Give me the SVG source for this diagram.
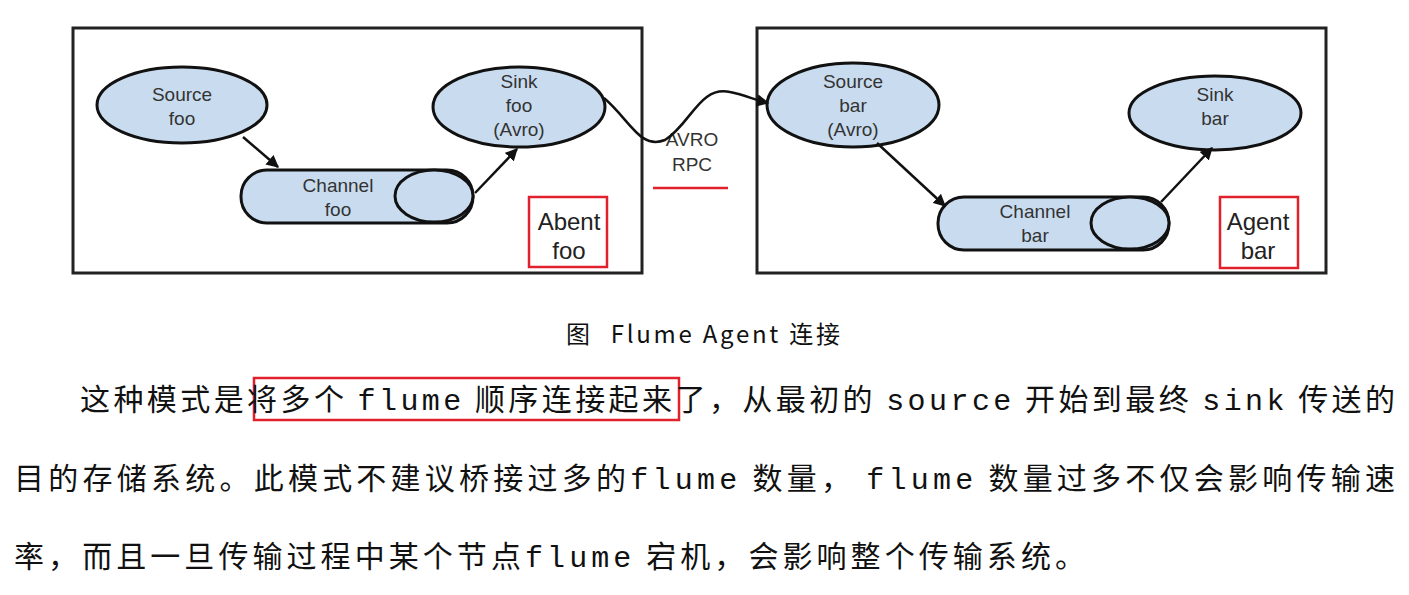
<svg xmlns="http://www.w3.org/2000/svg" width="1409" height="595" viewBox="0 0 1409 595">
<style>
.box{fill:#fff;stroke:#222;stroke-width:3}
.n{fill:#c9dcef;stroke:#111;stroke-width:3}
.t{font-family:"Liberation Sans",Arial,sans-serif;font-size:19px;fill:#333;text-anchor:middle}
.lbl{font-family:"Liberation Sans",Arial,sans-serif;font-size:24px;fill:#222;text-anchor:middle}
.red{fill:none;stroke:#e0202a;stroke-width:2.5}
.c{stroke:#111;stroke-width:2.5;fill:none}
.body{font-family:"Noto Sans CJK SC","Liberation Serif",serif;font-size:30px;fill:#111}
.m{font-family:"Liberation Mono","Noto Sans CJK SC",monospace}
</style>
<defs><marker id="a" viewBox="0 0 10 10" refX="9" refY="5" markerWidth="5" markerHeight="5" orient="auto"><path d="M0 0L10 5L0 10z" fill="#111"/></marker></defs>
<rect class="box" x="73" y="28" width="569" height="245"/>
<rect class="box" x="757" y="28" width="569" height="245"/>
<g id="source-foo"><ellipse class="n" cx="182" cy="105" rx="85" ry="38"/><text class="t" x="182" y="101">Source</text><text class="t" x="182" y="125">foo</text></g>
<g id="channel-foo"><rect class="n" x="241" y="170" width="232" height="53" rx="26"/><ellipse class="n" cx="434" cy="196" rx="39" ry="26"/><text class="t" x="338" y="192">Channel</text><text class="t" x="338" y="216">foo</text></g>
<g id="sink-foo"><ellipse class="n" cx="519" cy="107" rx="86" ry="40"/><text class="t" x="519" y="88">Sink</text><text class="t" x="519" y="112">foo</text><text class="t" x="519" y="136">(Avro)</text></g>
<g id="agent-foo"><rect class="red" x="529" y="197" width="78" height="70"/><text class="lbl" x="569" y="230">Abent</text><text class="lbl" x="569" y="259">foo</text></g>
<g id="source-bar"><ellipse class="n" cx="853" cy="105" rx="86" ry="42"/><text class="t" x="853" y="88">Source</text><text class="t" x="853" y="112">bar</text><text class="t" x="853" y="136">(Avro)</text></g>
<g id="channel-bar"><rect class="n" x="938" y="197" width="231" height="53" rx="26"/><ellipse class="n" cx="1130" cy="223" rx="39" ry="26"/><text class="t" x="1035" y="218">Channel</text><text class="t" x="1035" y="242">bar</text></g>
<g id="sink-bar"><ellipse class="n" cx="1215" cy="113" rx="86" ry="37"/><text class="t" x="1215" y="101">Sink</text><text class="t" x="1215" y="125">bar</text></g>
<g id="agent-bar"><rect class="red" x="1220" y="197" width="78" height="71"/><text class="lbl" x="1258" y="230">Agent</text><text class="lbl" x="1258" y="259">bar</text></g>
<g id="avro-rpc"><text class="t" x="692" y="146" fill="#555">AVRO</text><text class="t" x="692" y="171" fill="#555">RPC</text><line class="red" x1="653" y1="188" x2="728" y2="188"/></g>
<g id="connectors">
<path class="c" d="M243 137L278 167" marker-end="url(#a)"/>
<path class="c" d="M475 193L517 149" marker-end="url(#a)"/>
<path class="c" d="M604 98C630 120 640 150 665 140C690 125 700 85 730 92C745 95 755 100 768 103" marker-end="url(#a)"/>
<path class="c" d="M877 143L945 206" marker-end="url(#a)"/>
<path class="c" d="M1161 202L1212 148" marker-end="url(#a)"/>
</g>
<text x="566" y="343" font-family="'Noto Sans CJK SC','Liberation Sans',sans-serif" font-size="24" fill="#111" textLength="274" lengthAdjust="spacing">图<tspan dx="18">Flume Agent 连接</tspan></text>
<rect class="red" x="254" y="378" width="425" height="42"/>
<text class="body" x="80" y="410" textLength="1315" lengthAdjust="spacing">这种模式是将多个 <tspan class="m">flume</tspan> 顺序连接起来了，从最初的 <tspan class="m">source</tspan> 开始到最终 <tspan class="m">sink</tspan> 传送的</text>
<text class="body" x="14" y="489" textLength="1381" lengthAdjust="spacing">目的存储系统。此模式不建议桥接过多的<tspan class="m">flume</tspan> 数量，  <tspan class="m">flume</tspan> 数量过多不仅会影响传输速</text>
<text class="body" x="14" y="567" textLength="1071" lengthAdjust="spacing">率，而且一旦传输过程中某个节点<tspan class="m">flume</tspan> 宕机，会影响整个传输系统。</text>
</svg>
